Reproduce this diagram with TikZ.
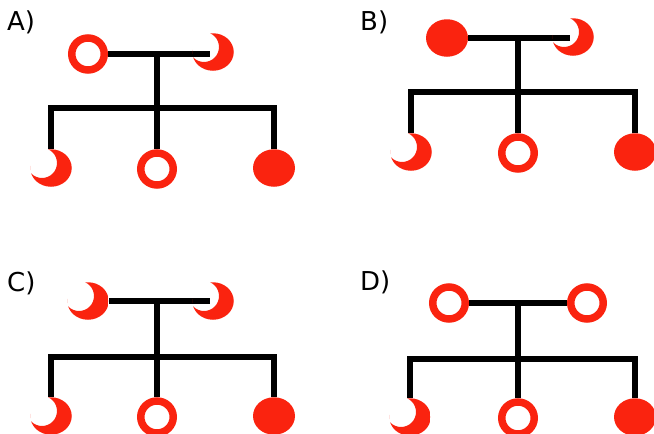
\documentclass[tikz,border=0pt]{standalone}
\usepackage{fontspec}
\setmainfont{DejaVu Sans}
\usetikzlibrary{shapes.geometric}
\pgfdeclarelayer{bg}
\pgfsetlayers{bg,main}
\definecolor{pedred}{RGB}{250,35,15}
\tikzset{
  ring/.style={ellipse, draw=pedred, line width=7.5pt, minimum width=32.5pt,
    minimum height=32pt, inner sep=0pt},
  disc/.style={ellipse, fill=pedred, minimum width=42pt, minimum height=37.5pt,
    inner sep=0pt, outer sep=0pt},
  moon/.style={ellipse, minimum width=41.5pt, minimum height=37.5pt, inner sep=0pt,
    outer sep=0pt,
    path picture={\fill[pedred, even odd rule]
      (path picture bounding box.south west) rectangle
      (path picture bounding box.north east)
      ([shift={(-9pt,5pt)}]path picture bounding box.center)
      circle[radius=15pt];}},
  link/.style={line width=5.3pt, black},
  tag/.style={anchor=base west, inner sep=0pt,
    font=\fontsize{26}{30}\selectfont}
}
\begin{document}
\begin{tikzpicture}[x=1pt, y=-1pt]
\useasboundingbox (0,0) rectangle (654,434);

% ---- A ----
\node[tag] (la) at (7,30) {A)};
\node[ring] (a1) at (88,54) {};
\node[moon] (a2) at (213,52) {};
\node[moon] (a3) at (51,168) {};
\node[ring] (a4) at (157,169) {};
\node[disc] (a5) at (274,168) {};
\coordinate (ab) at (157,108);

% ---- B ----
\node[tag] (lb) at (360,30) {B)};
\node[disc] (b1) at (447,38) {};
\node[moon] (b2) at (573,37) {};
\node[moon] (b3) at (411,152) {};
\node[ring] (b4) at (518,153) {};
\node[disc] (b5) at (635,152) {};
\coordinate (bb) at (518,92);

% ---- C ----
\node[tag] (lc) at (7,291) {C)};
\node[moon] (c1) at (88,301) {};
\node[moon] (c2) at (213,301) {};
\node[moon] (c3) at (51,416) {};
\node[ring] (c4) at (157,417) {};
\node[disc] (c5) at (274,416) {};
\coordinate (cb) at (157,357);

% ---- D ----
\node[tag] (ld) at (360,290) {D)};
\node[ring] (d1) at (449,303) {};
\node[ring] (d2) at (587,303) {};
\node[moon] (d3) at (410,417) {};
\node[ring] (d4) at (518,418) {};
\node[disc] (d5) at (635,417) {};
\coordinate (db) at (518,359);

\begin{pgfonlayer}{bg}
  % A
  \draw[link] (a1.east) -- ([xshift=-3pt]a1.east -| a2.center);
  \draw[link] (a4 |- a1) -- (a4.north);
  \draw[link] (a3.north) -- (a3 |- ab) -- (a5 |- ab) -- (a5.north);
  % B
  \draw[link] (b1.east) -- ([xshift=-3pt]b1.east -| b2.center);
  \draw[link] (b4 |- b1) -- (b4.north);
  \draw[link] (b3.north) -- (b3 |- bb) -- (b5 |- bb) -- (b5.north);
  % C
  \draw[link] (c1.east) -- ([xshift=-3pt]c2.center);
  \draw[link] (c4 |- c1) -- (c4.north);
  \draw[link] (c3.north) -- (c3 |- cb) -- (c5 |- cb) -- (c5.north);
  % D
  \draw[link] (d1.east) -- (d2.west);
  \draw[link] (d4 |- d1) -- (d4.north);
  \draw[link] (d3.north) -- (d3 |- db) -- (d5 |- db) -- (d5.north);
\end{pgfonlayer}
\end{tikzpicture}
\end{document}
